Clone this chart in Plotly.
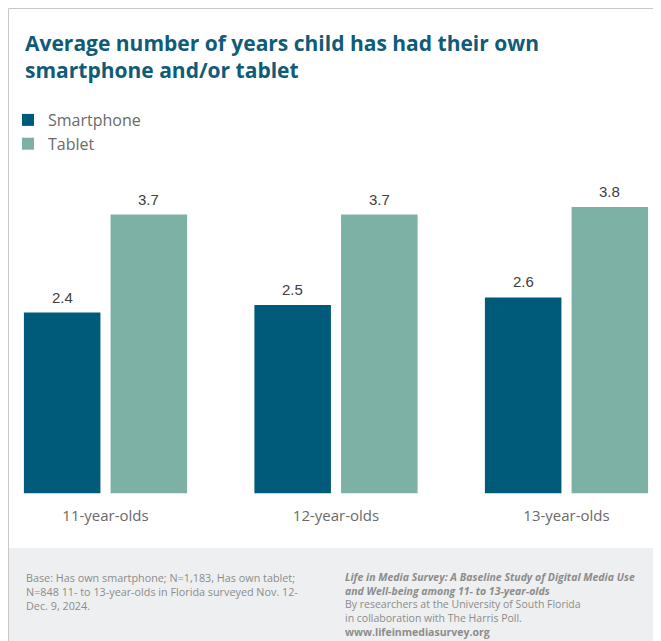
import plotly.graph_objects as go

categories = ["11-year-olds", "12-year-olds", "13-year-olds"]
smartphone = [2.4, 2.5, 2.6]
tablet = [3.7, 3.7, 3.8]
series_names = ["Smartphone", "Tablet"]

# The page body has an 8px margin, so the figure is drawn 8px smaller.
W, H = 653, 633
C_SMART = "#005b7b"
C_TAB = "#7eb1a6"
LABEL_FONT = dict(family="Liberation Sans, Arial", size=15, color="#404040")

def px_x(p):
    return p / W

def px_y(p):
    return 1 - p / H

BAR_W = 0.332
OFFSETS = [-0.354, 0.022]
X_SCALE = 230.5  # pixels per category

fig = go.Figure()
annotations = []
for name, vals, color, off in zip(series_names, [smartphone, tablet], [C_SMART, C_TAB], OFFSETS):
    fig.add_trace(go.Bar(
        x=categories, y=vals, name=name,
        marker=dict(color=color, line=dict(width=0)),
        offset=off, width=BAR_W,
    ))
    shift = (off + BAR_W / 2) * X_SCALE
    for c, v in zip(categories, vals):
        annotations.append(dict(
            x=c, y=v, xref="x", yref="y", text=f"{v:.1f}",
            showarrow=False, xanchor="center", yanchor="bottom",
            xshift=shift, yshift=5, font=LABEL_FONT,
        ))

annotations += [
    dict(xref="paper", yref="paper", x=px_x(15.7), y=px_y(560),
         xanchor="left", yanchor="top", align="left", showarrow=False,
         text="Base: Has own smartphone; N=1,183, Has own tablet;<br>"
              "N=848 11- to 13-year-olds in Florida surveyed Nov. 12-<br>"
              "Dec. 9, 2024.",
         font=dict(family="Open Sans", size=10.8, color="#8c8c8c")),
    dict(xref="paper", yref="paper", x=px_x(335), y=px_y(560),
         xanchor="left", yanchor="top", align="left", showarrow=False,
         text="<b><i>Life in Media Survey: A Baseline Study of Digital Media Use<br>"
              "and Well-being among 11- to 13-year-olds</i></b><br>"
              "By researchers at the University of South Florida<br>"
              "in collaboration with The Harris Poll.<br>"
              "<b>www.lifeinmediasurvey.org</b>",
         font=dict(family="Open Sans", size=10.5, color="#8c8c8c")),
]

fig.update_layout(
    width=W, height=H,
    margin=dict(l=0, r=0, t=0, b=0),
    paper_bgcolor="white", plot_bgcolor="white",
    showlegend=True,
    legend=dict(
        x=0, y=px_y(95), xanchor="left", yanchor="top",
        orientation="v", traceorder="normal",
        font=dict(family="Open Sans", size=16, color="#6a6a6a"),
        bgcolor="rgba(0,0,0,0)", itemclick=False,
    ),
    title=dict(
        text="<b>Average number of years child has had their own<br>smartphone and/or tablet</b>",
        x=px_x(17), xanchor="left", xref="paper",
        y=px_y(43), yanchor="top", yref="container",
        font=dict(family="Open Sans", size=21, color="#0f5b78"),
    ),
    xaxis=dict(
        domain=[0, 1], range=[-0.423, 2.41],
        showgrid=False, zeroline=False, showline=False, ticks="",
        ticklabelstandoff=11,
        tickfont=dict(family="Open Sans", size=15, color="#6a6a6a"),
    ),
    yaxis=dict(
        domain=[px_y(485.5), px_y(172)], range=[0, 4.158],
        visible=False,
    ),
    shapes=[
        dict(type="rect", xref="paper", yref="paper",
             x0=0, x1=1, y0=0, y1=px_y(540),
             fillcolor="#eeeff0", line=dict(width=0), layer="below"),
        dict(type="line", xref="paper", yref="paper",
             x0=px_x(0.5), x1=1, y0=px_y(0.5), y1=px_y(0.5),
             line=dict(color="#c8c8c8", width=1)),
        dict(type="line", xref="paper", yref="paper",
             x0=px_x(0.5), x1=px_x(0.5), y0=0, y1=px_y(0.5),
             line=dict(color="#c8c8c8", width=1)),
    ],
    annotations=annotations,
)

fig.write_html("out.html")
